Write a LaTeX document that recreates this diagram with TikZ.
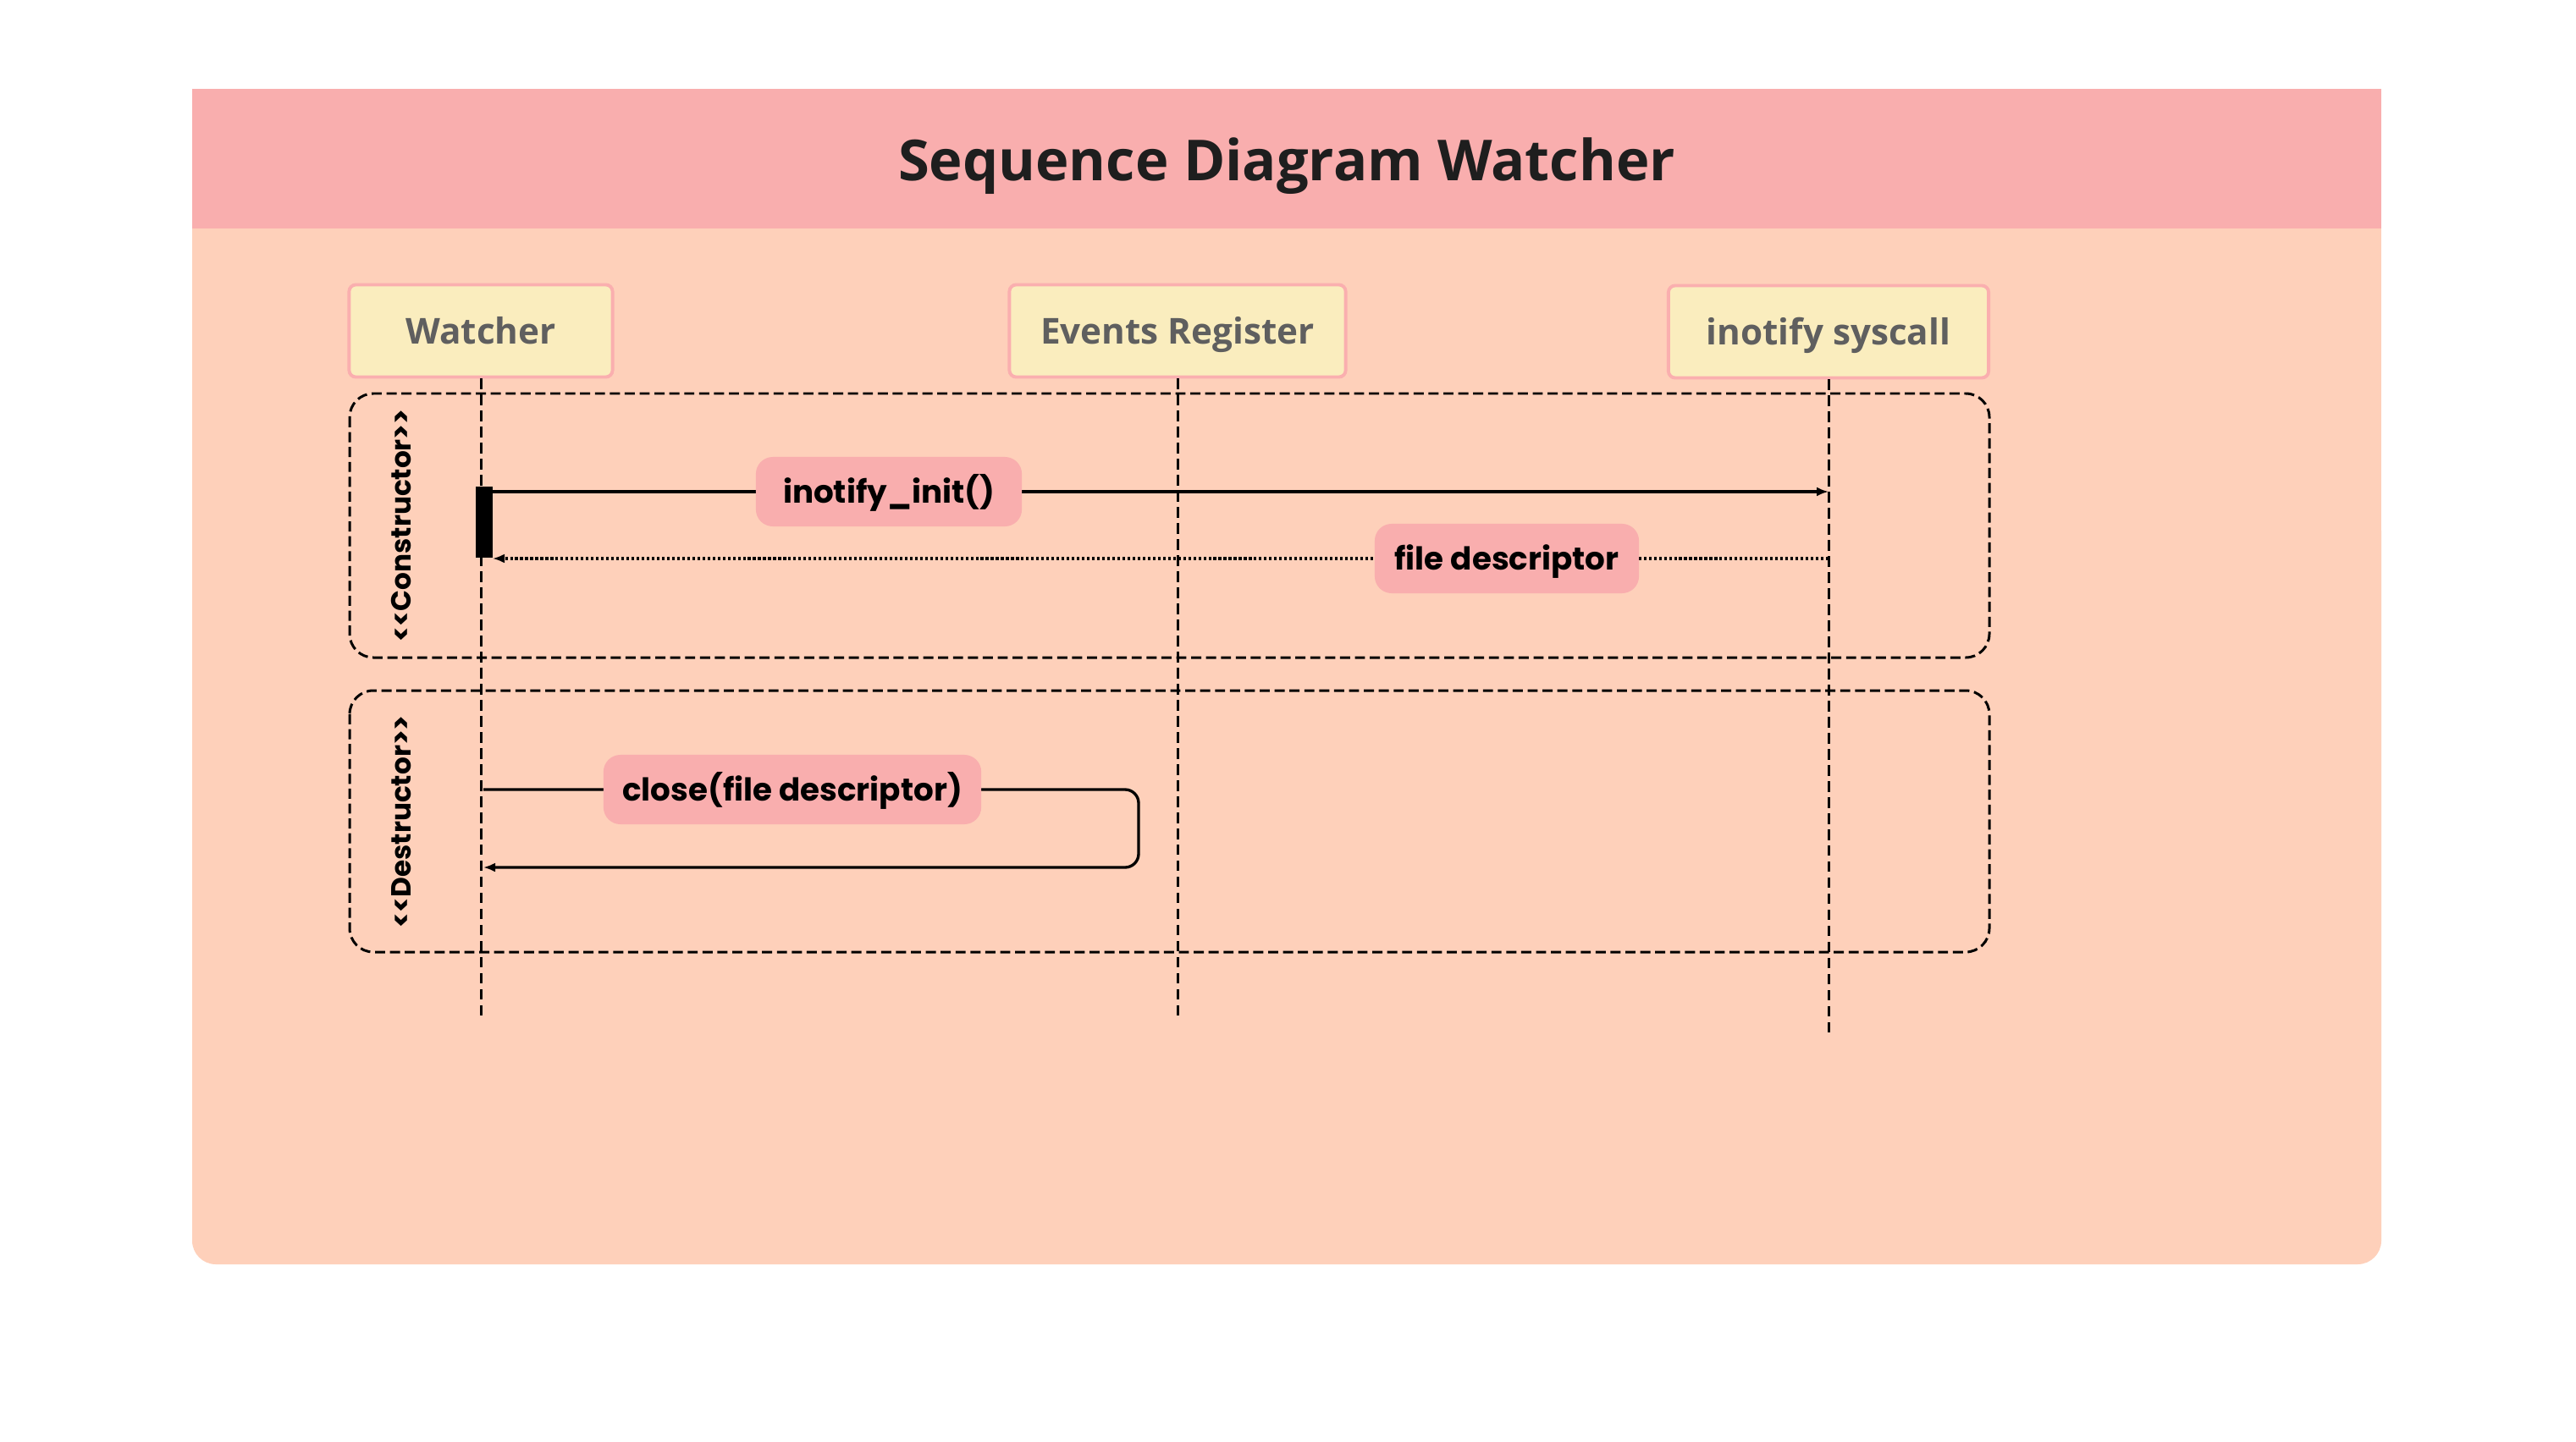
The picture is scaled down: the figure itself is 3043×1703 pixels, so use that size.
\documentclass[tikz,border=0pt]{standalone}
\usepackage{fontspec}
\setmainfont{Open Sans}
\newfontfamily\labelfont{Poppins}
\usetikzlibrary{arrows.meta}

\definecolor{bandpink}{RGB}{249,174,174}
\definecolor{panelpeach}{RGB}{254,208,186}
\definecolor{actorfill}{RGB}{250,237,190}
\definecolor{actorline}{RGB}{250,175,175}
\definecolor{msgfill}{RGB}{249,174,174}
\definecolor{actortext}{RGB}{95,95,95}
\definecolor{titletext}{RGB}{30,30,30}

\tikzset{
  actor/.style={draw=actorline, line width=1.1pt, fill=actorfill, rounded corners=0.08cm,
    minimum height=1.09cm, inner sep=0pt, text=actortext, text height=8.6pt, text depth=0pt,
    font=\bfseries\fontsize{12}{14}\selectfont},
  lifeline/.style={line width=0.85pt, dash pattern=on 3.5pt off 1.9pt},
  fragment/.style={line width=0.85pt, dash pattern=on 3.4pt off 1.6pt, rounded corners=0.28cm},
  fraglabel/.style={rotate=90, inner sep=0pt, font=\labelfont\bfseries\fontsize{9.3}{11}\selectfont},
  call/.style={line width=0.95pt, -{Latex[length=0.14cm,width=0.11cm]}},
  reply/.style={line width=1pt, dash pattern=on 0.9pt off 0.8pt, -{Latex[length=0.14cm,width=0.11cm]}},
  msglabel/.style={fill=msgfill, rounded corners=0.2cm, minimum height=0.82cm, inner sep=0pt,
    text height=7.4pt, text depth=0pt,
    font=\labelfont\bfseries\fontsize{10.6}{12}\selectfont},
}

\begin{document}
\begin{tikzpicture}[x=0.01cm, y=-0.01cm]
  % page
  \useasboundingbox (0,0) rectangle (3043,1703);
  \fill[white] (0,0) rectangle (3043,1703);

  % panel and title band
  \fill[panelpeach, rounded corners=0.28cm] (227,600) rectangle (2813,1494);
  \fill[panelpeach] (227,260) rectangle (2813,700);
  \fill[bandpink] (227,105) rectangle (2813,270);
  \node[font=\bfseries\fontsize{19}{23}\selectfont, text=titletext] (title) at (1520,196)
    {Sequence Diagram Watcher};

  % participants
  \node[actor, minimum width=3.11cm] (watcher) at (568,391) {Watcher};
  \node[actor, minimum width=3.97cm] (events) at (1391,391) {Events Register};
  \node[actor, minimum width=3.78cm] (inotify) at (2160,392) {inotify syscall};

  % lifeline ends
  \coordinate (watcherend) at (568,1201);
  \coordinate (eventsend) at (1391,1201);
  \coordinate (inotifyend) at (2160,1221);

  % combined fragments
  \draw[fragment] (413,465) rectangle (2350,777);
  \draw[fragment] (413,816) rectangle (2350,1125);
  \node[fraglabel] (ctorlabel) at (474,621) {<\kern0pt<Constructor>\kern0pt>};
  \node[fraglabel] (dtorlabel) at (474,971) {<\kern0pt<Destructor>\kern0pt>};

  % lifelines
  \draw[lifeline] (watcher.south) -- (watcherend);
  \draw[lifeline] (events.south) -- (eventsend);
  \draw[lifeline] (inotify.south) -- (inotifyend);

  % activation on the watcher
  \node[fill=black, minimum width=0.2cm, minimum height=0.84cm, inner sep=0pt] (act) at (572,617) {};

  % constructor messages
  \coordinate (initfrom) at (582,581);
  \coordinate (initto) at (2160,581);
  \coordinate (fdfrom) at (2160,660);
  \coordinate (fdto) at (582,660);
  \draw[call] (initfrom) -- (initto);
  \draw[reply] (fdfrom) -- (fdto);
  \node[msglabel, minimum width=3.14cm] (initlabel) at (1050,581) {inotify\_init()};
  \node[msglabel, minimum width=3.12cm] (fdlabel) at (1780,660) {file descriptor};

  % destructor self message
  \coordinate (closefrom) at (571,933);
  \coordinate (closeturn) at (1345,933);
  \coordinate (closeback) at (1345,1025);
  \coordinate (closeto) at (571,1025);
  \draw[call, rounded corners=0.16cm] (closefrom) -- (closeturn) -- (closeback) -- (closeto);
  \node[msglabel, minimum width=4.46cm] (closelabel) at (936,933) {close(file descriptor)};
\end{tikzpicture}
\end{document}
